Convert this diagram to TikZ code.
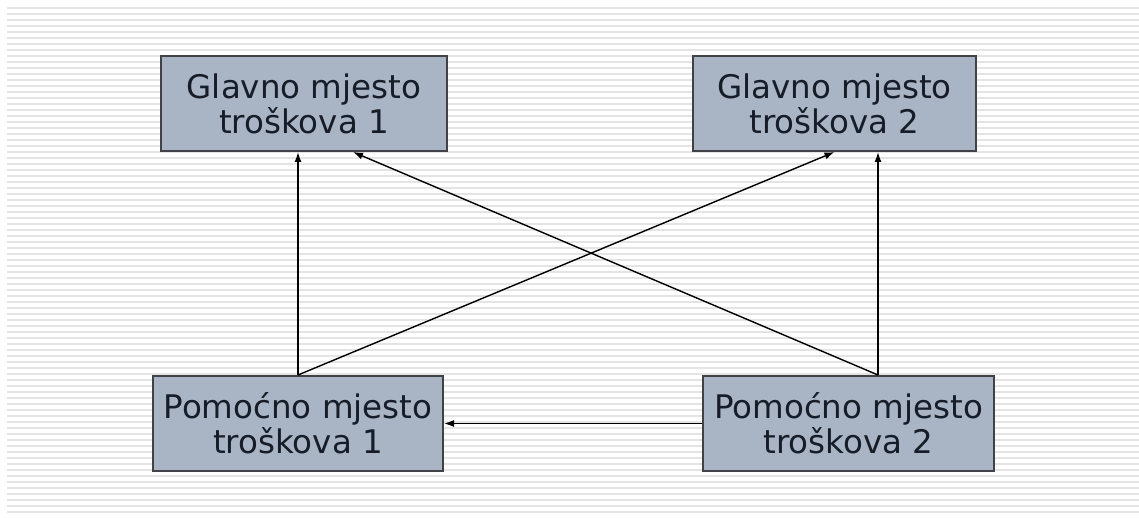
\documentclass[tikz,border=0pt]{standalone}
\usepackage{fontspec}
\setmainfont{DejaVu Sans}
\usetikzlibrary{arrows.meta}
\definecolor{boxfill}{RGB}{169,181,196}
\definecolor{boxline}{RGB}{64,66,70}
\definecolor{boxtext}{RGB}{22,28,40}
\definecolor{stripe}{RGB}{228,228,228}

\begin{document}
\begin{tikzpicture}[x=1pt,y=-1pt,
    mjesto/.style={draw=boxline,line width=2pt,fill=boxfill,text=boxtext,
      minimum height=95pt,align=center,inner sep=0pt,
      font=\fontsize{32.5}{35}\selectfont},
    veza/.style={line width=1.4pt,-{Latex[length=10pt,width=7pt]}}]
  \useasboundingbox (0,0) rectangle (1139,518);
  % pozadina
  \foreach \y in {8,14,...,514}
    \draw[stripe,line width=1.5pt] (7,\y) -- (1139,\y);
  % mjesta troskova
  \node (g1) at (304,103.5) [mjesto,minimum width=286pt] {Glavno mjesto\\troškova 1};
  \node (g2) at (834.5,103.5) [mjesto,minimum width=283pt] {Glavno mjesto\\troškova 2};
  \node (p1) at (298,423.5) [mjesto,minimum width=290pt] {Pomoćno mjesto\\troškova 1};
  \node (p2) at (848.5,423.5) [mjesto,minimum width=291pt] {Pomoćno mjesto\\troškova 2};
  % tocke spajanja
  \coordinate (p1a) at (p1.north);
  \coordinate (g1a) at (g1.south -| p1a);
  \coordinate (p2a) at ([xshift=29.5pt]p2.north);
  \coordinate (g2a) at (g2.south -| p2a);
  \coordinate (g1b) at ([xshift=49pt]g1.south);
  \draw[veza] (p1a) -- (g1a);
  \draw[veza] (p1a) -- (g2.south);
  \draw[veza] (p2a) -- (g2a);
  \draw[veza] (p2a) -- (g1b);
  \draw[veza] (p2.west) -- (p1.east);
\end{tikzpicture}
\end{document}
